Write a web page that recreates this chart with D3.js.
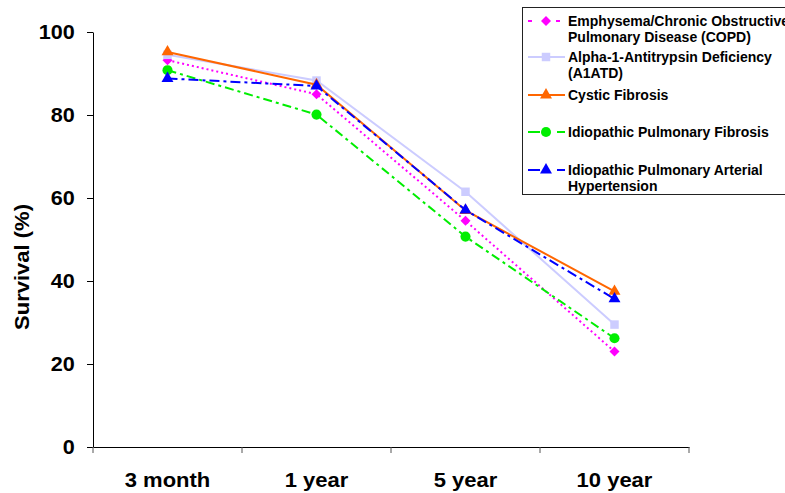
<!DOCTYPE html>
<html>
<head>
<meta charset="utf-8">
<script src="https://cdn.jsdelivr.net/npm/d3@7"></script>
<style>
  body { margin: 0; background: #fff; }
  svg { display: block; font-family: "Liberation Sans", Arial, sans-serif; font-weight: bold; }
</style>
</head>
<body>
<svg id="chart" width="785" height="493"></svg>
<script>
// categories and values
var categories = ["3 month", "1 year", "5 year", "10 year"];
var yTicks = [0, 20, 40, 60, 80, 100];

var copd  = [93.2, 85.0, 54.5, 23.0];
var a1atd = [94.5, 88.3, 61.5, 29.5];
var cf    = [95.2, 87.3, 57.0, 37.5];
var ipf   = [90.8, 80.1, 50.7, 26.2];
var ipah  = [88.8, 87.0, 57.1, 35.7];

var seriesNames = [
    ["Emphysema/Chronic Obstructive", "Pulmonary Disease (COPD)"],
    ["Alpha-1-Antitrypsin Deficiency", "(A1ATD)"],
    ["Cystic Fibrosis"],
    ["Idiopathic Pulmonary Fibrosis"],
    ["Idiopathic Pulmonary Arterial", "Hypertension"]
];

var series = [
    {values: copd,  name: seriesNames[0], color: "#ff00ff", dash: "2,3",      legendDash: "4,10",     shape: "diamond"},
    {values: a1atd, name: seriesNames[1], color: "#ccccff", dash: null,       legendDash: null,       shape: "square"},
    {values: cf,    name: seriesNames[2], color: "#ff6600", dash: null,       legendDash: null,       shape: "triangle"},
    {values: ipf,   name: seriesNames[3], color: "#00ee00", dash: "9,4,3,4",  legendDash: "12,17,8",  shape: "circle"},
    {values: ipah,  name: seriesNames[4], color: "#0000ff", dash: "10,4,3,4", legendDash: "12,17,8",  shape: "triangle"}
];

var svg = d3.select("#chart");

var x = d3.scaleBand().domain(categories).range([93, 689]);
var y = d3.scaleLinear().domain([0, 100]).range([447, 32]);

// y axis
var yAxis = svg.append("g")
    .attr("transform", "translate(93,0)")
    .call(d3.axisLeft(y).tickValues(yTicks).tickSize(6).tickSizeOuter(0).tickPadding(11));
yAxis.selectAll("text").style("font-size", "20px").attr("fill", "#000")
    .attr("transform", "scale(1.08,1)");
yAxis.selectAll("line, path").attr("stroke", "#000");

// x axis (labels centred in bands, ticks on band edges)
var xAxis = svg.append("g")
    .attr("transform", "translate(0,447)")
    .call(d3.axisBottom(x).tickSize(0).tickSizeOuter(0).tickPadding(26));
xAxis.selectAll("text").style("font-size", "20px").attr("fill", "#000")
    .attr("transform", "scale(1.1,1)");
xAxis.select("path").attr("stroke", "#000");
var edges = categories.map(function(c) { return x(c); }).concat([x.range()[1]]);
xAxis.selectAll("line.edge")
    .data(edges)
    .enter().append("line")
    .attr("class", "edge")
    .attr("x1", function(d) { return d; })
    .attr("x2", function(d) { return d; })
    .attr("y1", 0).attr("y2", 6)
    .attr("stroke", "#555");

// y title
svg.append("text")
    .attr("transform", "translate(29,267) rotate(-90) scale(1.1,1)")
    .attr("text-anchor", "middle")
    .style("font-size", "20px")
    .text("Survival (%)");

function markerPath(shape) {
    if (shape === "diamond") return d3.symbol().type(d3.symbolSquare).size(50)();
    if (shape === "square") return d3.symbol().type(d3.symbolSquare).size(72)();
    if (shape === "triangle") return d3.symbol().type(d3.symbolTriangle).size(62)();
    return d3.symbol().type(d3.symbolCircle).size(80)();
}

var cx = function(i) { return x(categories[i]) + x.bandwidth() / 2; };

var line = d3.line()
    .x(function(d, i) { return cx(i); })
    .y(function(d) { return y(d); });

series.forEach(function(s) {
    var g = svg.append("g");
    g.append("path")
        .attr("d", line(s.values))
        .attr("fill", "none")
        .attr("stroke", s.color)
        .attr("stroke-width", 2)
        .attr("stroke-dasharray", s.dash);
    g.selectAll("path.mk")
        .data(s.values)
        .enter().append("path")
        .attr("class", "mk")
        .attr("d", markerPath(s.shape))
        .attr("fill", s.color)
        .attr("transform", function(d, i) {
            var t = "translate(" + cx(i) + "," + y(d) + ")";
            return s.shape === "diamond" ? t + " rotate(45)" : t;
        });
});

// legend
var legend = svg.append("g");
legend.append("rect")
    .attr("x", 522.5).attr("y", 7.5)
    .attr("width", 280).attr("height", 187)
    .attr("fill", "#fff")
    .attr("stroke", "#222");

var legendY = [21, 57, 95, 132, 170];
series.forEach(function(s, i) {
    var ly = legendY[i];
    var lg = legend.append("g");
    lg.append("line")
        .attr("x1", 528).attr("x2", 565)
        .attr("y1", ly).attr("y2", ly)
        .attr("stroke", s.color)
        .attr("stroke-width", 2)
        .attr("stroke-dasharray", s.legendDash);
    lg.append("path")
        .attr("d", markerPath(s.shape))
        .attr("fill", s.color)
        .attr("transform", "translate(546," + ly + ")" + (s.shape === "diamond" ? " rotate(45)" : ""));
    s.name.forEach(function(t, j) {
        lg.append("text")
            .attr("x", 568)
            .attr("y", ly + 5 + j * 16)
            .style("font-size", "14px")
            .text(t);
    });
});
</script>
</body>
</html>
